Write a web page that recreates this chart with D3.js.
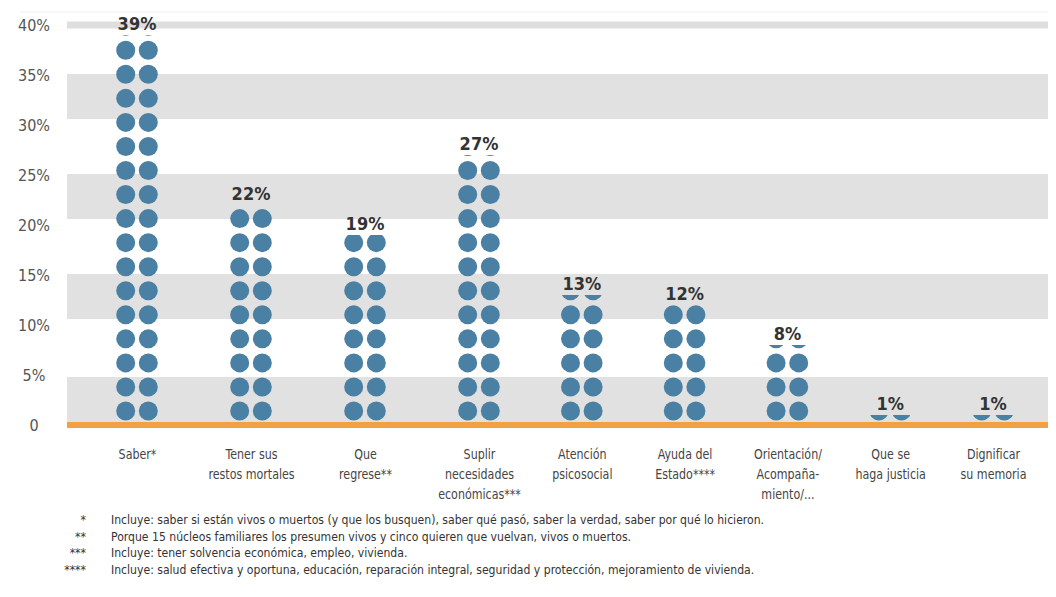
<!DOCTYPE html>
<html lang="es">
<head>
<meta charset="utf-8">
<script src="https://cdn.jsdelivr.net/npm/d3@7"></script>
<style>
  html, body { margin: 0; padding: 0; background: #fff; }
  svg { display: block; }
  text { font-family: "Liberation Sans Narrow", "DejaVu Sans Condensed", "Open Sans", sans-serif; font-stretch: condensed; }
</style>
</head>
<body>
<svg id="chart" width="1056" height="597"></svg>
<script>
// Categories and the share of families naming each one
const categories = [
  "Saber*", "Tener sus restos mortales", "Que regrese**", "Suplir necesidades económicas***",
  "Atención psicosocial", "Ayuda del Estado****", "Orientación/ Acompañamiento/...",
  "Que se haga justicia", "Dignificar su memoria"
];
const categoryLines = [
  ["Saber*"],
  ["Tener sus", "restos mortales"],
  ["Que", "regrese**"],
  ["Suplir", "necesidades", "económicas***"],
  ["Atención", "psicosocial"],
  ["Ayuda del", "Estado****"],
  ["Orientación/", "Acompaña-", "miento/..."],
  ["Que se", "haga justicia"],
  ["Dignificar", "su memoria"]
];
const values = [39, 22, 19, 27, 13, 12, 8, 1, 1];

// Y axis ticks and shaded bands
const yTicks = [0, 5, 10, 15, 20, 25, 30, 35, 40];
const yTickLabels = ["0", "5%", "10%", "15%", "20%", "25%", "30%", "35%", "40%"];
const bandStarts = [0, 10, 20, 30];

// Footnotes
const footnoteMarks = ["*", "**", "***", "****"];
const footnoteTexts = [
  "Incluye: saber si están vivos o muertos (y que los busquen), saber qué pasó, saber la verdad, saber por qué lo hicieron.",
  "Porque 15 núcleos familiares los presumen vivos y cinco quieren que vuelvan, vivos o muertos.",
  "Incluye: tener solvencia económica, empleo, vivienda.",
  "Incluye: salud efectiva y oportuna, educación, reparación integral, seguridad y protección, mejoramiento de vivienda."
];

const svg = d3.select("#chart");
const plotLeft = 67, plotRight = 1048;

const y = d3.scaleLinear().domain([0, 40]).range([425, 25]);
// The first four columns sit a little further apart than the rest
const slot = d3.scaleLinear().domain([0, 3, categories.length - 1]).range([137, 479, 993]);
const x = c => slot(categories.indexOf(c));

// Dot glyph layout, in value units along the axis
const dotPitch = 2.405;    // spacing between stacked dots
const dotFirst = 1.4;      // centre of the lowest dot
const dotRadius = 9.5;     // px
const colOffset = 11.3;    // px, half distance between the two dot columns

// Faint frame line at the top
svg.append("line")
  .attr("x1", 20).attr("x2", plotRight).attr("y1", 12).attr("y2", 12)
  .attr("stroke", "#f0f0f0").attr("stroke-width", 1);

// Alternating grey bands
svg.append("g").selectAll("rect")
  .data(bandStarts)
  .join("rect")
  .attr("x", plotLeft)
  .attr("width", plotRight - plotLeft)
  .attr("y", d => y(d === 0 ? 4.8 : d + 5.1))
  .attr("height", d => d === 0 ? y(0) - y(4.8) : y(d + 0.6) - y(d + 5.1))
  .attr("fill", "#e1e1e1");

// Thin band at the top tick
svg.append("rect")
  .attr("x", plotLeft).attr("width", plotRight - plotLeft)
  .attr("y", y(40.35)).attr("height", y(39.65) - y(40.35))
  .attr("fill", "#dedede");

// Y axis labels
const yAxis = svg.append("g")
  .attr("transform", `translate(${plotLeft},0)`)
  .call(d3.axisLeft(y).tickValues(yTicks).tickSize(0)
    .tickFormat((d, i) => yTickLabels[i]));
yAxis.select(".domain").remove();
yAxis.selectAll("text")
  .attr("x", -33)
  .attr("text-anchor", "middle")
  .attr("fill", "#555")
  .style("font-size", "16px")
  .style("font-family", null);

// X axis labels (multi-line)
const xAxis = svg.append("g")
  .attr("transform", `translate(0,${y(0)})`)
  .call(d3.axisBottom(slot).tickValues(d3.range(categories.length)).tickSize(0).tickFormat(""));
xAxis.select(".domain").remove();
xAxis.selectAll(".tick text").remove();
xAxis.selectAll(".tick")
  .append("text")
  .attr("text-anchor", "middle")
  .attr("fill", "#444")
  .attr("transform", "scale(0.88,1)")
  .style("font-size", "14px")
  .selectAll("tspan")
  .data(i => categoryLines[i])
  .join("tspan")
  .attr("x", 0)
  .attr("y", (d, i) => 34 + i * 20)
  .text(d => d);

// Dot columns, clipped at each value
const defs = svg.append("defs");
const bars = svg.append("g").selectAll("g")
  .data(categories.map((c, i) => ({ c, v: values[i], i })))
  .join("g");

bars.each(function (d) {
  const id = "clip-" + d.i;
  defs.append("clipPath").attr("id", id)
    .append("rect")
    .attr("x", x(d.c) - 30).attr("width", 60)
    .attr("y", y(d.v)).attr("height", y(0) - y(d.v));
  const rows = [];
  for (let k = 0; y(dotFirst + k * dotPitch) + dotRadius > y(d.v); k++) rows.push(dotFirst + k * dotPitch);
  const cells = [];
  rows.forEach(r => { cells.push({ r, dx: -colOffset }); cells.push({ r, dx: colOffset }); });
  d3.select(this).attr("clip-path", `url(#${id})`)
    .selectAll("circle")
    .data(cells)
    .join("circle")
    .attr("cx", c => x(d.c) + c.dx)
    .attr("cy", c => y(c.r))
    .attr("r", dotRadius)
    .attr("fill", "#4a80a3");
});

// Orange baseline
svg.append("line")
  .attr("x1", plotLeft).attr("x2", plotRight)
  .attr("y1", y(0)).attr("y2", y(0))
  .attr("stroke", "#f2a041").attr("stroke-width", 6);

// Value labels
svg.append("g").selectAll("text")
  .data(categories.map((c, i) => ({ c, v: values[i] })))
  .join("text")
  .attr("x", d => x(d.c))
  .attr("y", d => y(d.v) - 5)
  .attr("text-anchor", "middle")
  .attr("fill", "#333")
  .style("font-size", "18px")
  .style("font-weight", "bold")
  .text(d => d.v + "%");

// Footnotes
const notes = svg.append("g").style("font-size", "12.1px").attr("fill", "#333");
notes.selectAll("text.mark")
  .data(footnoteMarks)
  .join("text")
  .attr("class", "mark")
  .attr("x", 86)
  .attr("y", (d, i) => 524 + i * 16.7)
  .attr("text-anchor", "end")
  .text(d => d);
notes.selectAll("text.note")
  .data(footnoteTexts)
  .join("text")
  .attr("class", "note")
  .attr("x", 111)
  .attr("y", (d, i) => 524 + i * 16.7)
  .text(d => d);
</script>
</body>
</html>
